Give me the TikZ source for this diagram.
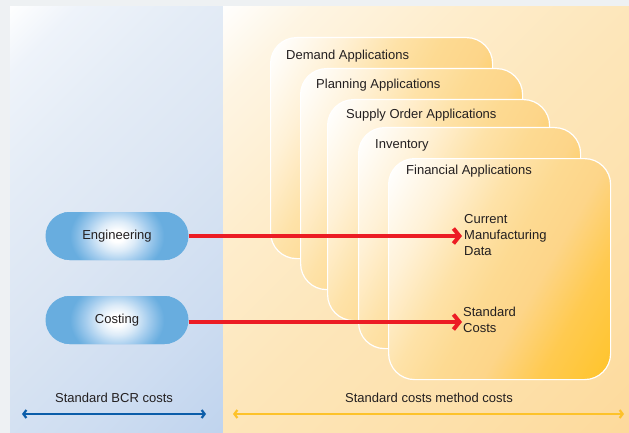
\documentclass[tikz,border=0pt]{standalone}
\usepackage{fontspec}
\setmainfont{Liberation Sans}
\usetikzlibrary{arrows.meta,shadings}
\definecolor{bggray}{HTML}{EEF1F3}
\definecolor{lpA}{HTML}{C0D4EE}
\definecolor{lpB}{HTML}{CEDDF1}
\definecolor{lpC}{HTML}{DCE6F3}
\definecolor{lpD}{HTML}{E4ECF6}
\definecolor{lpE}{HTML}{EEF3FA}
\definecolor{rpA}{HTML}{FDDA9C}
\definecolor{rpB}{HTML}{FDE0AA}
\definecolor{rpC}{HTML}{FDE6BA}
\definecolor{rpD}{HTML}{FEEDCC}
\definecolor{rpE}{HTML}{FEF5E3}
\definecolor{cdA}{HTML}{FFC42A}
\definecolor{cdB}{HTML}{FFCA50}
\definecolor{cdC}{HTML}{FDD589}
\definecolor{cdD}{HTML}{FDDA92}
\definecolor{cdE}{HTML}{FEE2A8}
\definecolor{cdF}{HTML}{FFF1D6}
\definecolor{pillblue}{HTML}{68ADDF}
\definecolor{pgA}{HTML}{DCEBF8}
\definecolor{pgB}{HTML}{A5CDEE}
\definecolor{pgC}{HTML}{7DB8E4}
\definecolor{arrred}{HTML}{EC1C24}
\definecolor{arrblue}{HTML}{0B5DA9}
\definecolor{arryellow}{HTML}{FDC22A}
\definecolor{txt}{HTML}{231F20}
\pgfdeclareverticalshading{leftpanel}{100bp}{color(0bp)=(lpA); color(15bp)=(lpA); color(30bp)=(lpB); color(50bp)=(lpC); color(65bp)=(lpD); color(78bp)=(lpE); color(86bp)=(white); color(100bp)=(white)}
\pgfdeclareverticalshading{rightpanel}{100bp}{color(0bp)=(rpA); color(15bp)=(rpA); color(30bp)=(rpB); color(50bp)=(rpC); color(65bp)=(rpD); color(78bp)=(rpE); color(86bp)=(white); color(100bp)=(white)}
\pgfdeclareverticalshading{cardshade}{100bp}{color(0bp)=(cdA); color(16bp)=(cdA); color(30bp)=(cdB); color(41bp)=(cdC); color(50bp)=(cdD); color(59bp)=(cdE); color(70bp)=(cdF); color(83bp)=(white); color(100bp)=(white)}
\pgfdeclareradialshading{pillglow}{\pgfpoint{0bp}{0bp}}{color(0bp)=(white); color(2.5bp)=(white); color(6.5bp)=(pgA); color(11bp)=(pgB); color(14.5bp)=(pgC); color(16.5bp)=(pillblue); color(50bp)=(pillblue)}
\begin{document}
\begin{tikzpicture}[x=1pt,y=-1pt,
  every node/.style={font=\fontsize{13}{16}\selectfont, text=txt},
  card/.style={draw=white, line width=1.2pt, rounded corners=26pt,
    shading=cardshade, shading angle=60,
    minimum width=222pt, minimum height=221pt, anchor=north west, inner sep=0pt},
  cardtitle/.style={anchor=base west, inner sep=0pt},
  pill/.style={rounded corners=24pt, fill=pillblue,
    path picture={\shade[shading=pillglow] (path picture bounding box.center) circle (58pt);},
    minimum width=143pt, minimum height=48pt, inner sep=0pt},
  datatext/.style={anchor=west, align=left, inner sep=0pt},
  redarrow/.style={draw=arrred, line width=4pt, -{Straight Barb[length=6pt,width=15pt]}},
  spanarrow/.style={line width=2.2pt, {Straight Barb[length=3pt,width=8pt]}-{Straight Barb[length=3pt,width=8pt]}}
]
\useasboundingbox (0,0) rectangle (629,433);
% background and panels
\fill[bggray] (0,0) rectangle (629,433);
\shade[shading=leftpanel, shading angle=45] (10,7) rectangle (223,433);
\shade[shading=rightpanel, shading angle=45] (223,7) rectangle (629,433);
% cards
\node[card] (c1) at (270,37) {};
\node[cardtitle] (t1) at (286,60) {Demand Applications};
\node[card] (c2) at (300,68) {};
\node[cardtitle] (t2) at (316,89) {Planning Applications};
\node[card] (c3) at (327,99) {};
\node[cardtitle] (t3) at (346,119) {Supply Order Applications};
\node[card] (c4) at (358,127) {};
\node[cardtitle] (t4) at (375,149) {Inventory};
\node[card] (c5) at (388,158) {};
\node[cardtitle] (t5) at (406,175) {Financial Applications};
% data texts
\node[datatext] (cmd) at (464,235) {Current\\Manufacturing\\Data};
\node[datatext] (sc) at (463,320) {Standard\\Costs};
% pills
\node[pill] (eng) at (117,236) {Engineering};
\node[pill] (cost) at (117,320) {Costing};
% red arrows
\draw[redarrow] (eng.east) -- ([xshift=-2pt]eng.east -| cmd.west);
\draw[redarrow] ([yshift=-2pt]cost.east) -- ([xshift=-1pt,yshift=-2pt]cost.east -| sc.west);
% bottom spans
\node (bcr) at (114,398) {Standard BCR costs};
\node (scm) at (429,398) {Standard costs method costs};
\coordinate (b1) at (22,414);
\coordinate (b2) at (206,414);
\coordinate (y1) at (233,414);
\coordinate (y2) at (624,414);
\draw[spanarrow, draw=arrblue] (b1) -- (b2);
\draw[spanarrow, draw=arryellow] (y1) -- (y2);
\end{tikzpicture}
\end{document}
